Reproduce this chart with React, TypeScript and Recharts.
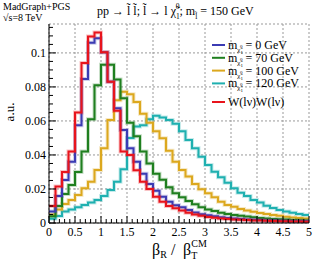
import { LineChart, Line, XAxis, YAxis, CartesianGrid } from 'recharts';

// bin edges 0 .. 5, width 0.125 (40 bins)
const xEdges = Array.from({ length: 41 }, (_, i) => i * 0.125);

const m0 = [0.0067, 0.0159, 0.0253, 0.036, 0.0575, 0.0846, 0.106, 0.1086, 0.1004, 0.083, 0.0675, 0.0547, 0.044, 0.036, 0.029, 0.023, 0.019, 0.0155, 0.0125, 0.0105, 0.0092, 0.0076, 0.0062, 0.0052, 0.0045, 0.0039, 0.0034, 0.003, 0.0027, 0.0024, 0.0021, 0.0019, 0.0017, 0.0015, 0.0014, 0.0013, 0.0012, 0.0011, 0.001, 0.001];
const m70 = [0.004, 0.01, 0.017, 0.0224, 0.03, 0.042, 0.061, 0.081, 0.093, 0.093, 0.0843, 0.0734, 0.059, 0.051, 0.042, 0.035, 0.029, 0.0255, 0.021, 0.0175, 0.0152, 0.013, 0.011, 0.0092, 0.008, 0.007, 0.006, 0.0053, 0.0047, 0.0042, 0.0038, 0.0034, 0.003, 0.0027, 0.0024, 0.0022, 0.002, 0.0018, 0.0016, 0.0015];
const m100 = [0.005, 0.008, 0.0112, 0.0135, 0.0165, 0.0204, 0.0243, 0.0312, 0.0439, 0.0605, 0.0722, 0.0771, 0.0757, 0.0712, 0.0643, 0.059, 0.054, 0.0498, 0.0425, 0.036, 0.0312, 0.0273, 0.0229, 0.0198, 0.0175, 0.0151, 0.0125, 0.0106, 0.0096, 0.0082, 0.0074, 0.0066, 0.0059, 0.0053, 0.0047, 0.0042, 0.0037, 0.0033, 0.003, 0.0027];
const m120 = [0.0025, 0.0041, 0.0067, 0.008, 0.0092, 0.0106, 0.012, 0.0135, 0.0159, 0.0194, 0.0243, 0.0316, 0.05, 0.0567, 0.0575, 0.061, 0.063, 0.062, 0.0606, 0.0584, 0.054, 0.0488, 0.0439, 0.039, 0.0341, 0.0302, 0.0269, 0.0237, 0.0204, 0.0178, 0.0159, 0.0135, 0.012, 0.0102, 0.0088, 0.0077, 0.0068, 0.0061, 0.0053, 0.0047];
const ww = [0.01, 0.0214, 0.03, 0.042, 0.065, 0.094, 0.1096, 0.112, 0.1004, 0.083, 0.066, 0.042, 0.04, 0.031, 0.0243, 0.02, 0.0155, 0.0125, 0.01, 0.0086, 0.0074, 0.006, 0.005, 0.0042, 0.0036, 0.0031, 0.0027, 0.0024, 0.0021, 0.0019, 0.0017, 0.0015, 0.0014, 0.0013, 0.0012, 0.0011, 0.001, 0.0009, 0.0009, 0.0008];

const xTicks = Array.from({ length: 51 }, (_, i) => i / 10);
const yTicks = Array.from({ length: 24 }, (_, i) => (i * 5) / 1000);
const xMajor = [0, 0.5, 1, 1.5, 2, 2.5, 3, 3.5, 4, 4.5, 5];
const yMajor = [0, 0.02, 0.04, 0.06, 0.08, 0.1];

const series = [
  { key: 'm0', color: '#3b3bb3', label: '= 0 GeV', values: m0 },
  { key: 'm70', color: '#1f7f1f', label: '= 70 GeV', values: m70 },
  { key: 'm100', color: '#dca81e', label: '= 100 GeV', values: m100 },
  { key: 'm120', color: '#1fb0b0', label: '= 120 GeV', values: m120 },
  { key: 'ww', color: '#e8141c', label: 'W(lν)W(lν)', values: ww },
];
// drawing order: red on top
const drawOrder = ['m120', 'm100', 'm70', 'm0', 'ww'];

const data = xEdges.map((x, i) => {
  const j = Math.min(i, 39);
  return { x, m0: m0[j], m70: m70[j], m100: m100[j], m120: m120[j], ww: ww[j] };
});

const FONT = '"Liberation Serif", "DejaVu Serif", serif';

const isMajorX = (v: number) => Math.abs(v * 2 - Math.round(v * 2)) < 1e-6;
const isMajorY = (v: number) => Math.round(v * 1000) % 20 === 0;

const XTick = (side: 'bottom' | 'top') => (props: any) => {
  const { x, y, payload } = props;
  const v = payload.value;
  const major = isMajorX(v);
  const len = major ? 7 : 4;
  const dir = side === 'bottom' ? -1 : 1;
  return (
    <g>
      <line x1={x} x2={x} y1={y} y2={y + dir * len} stroke="#000" strokeWidth={1} />
      {side === 'bottom' && major && (
        <text x={x} y={y + 13} textAnchor="middle" fontSize={12} fontFamily={FONT} fill="#000">
          {String(v)}
        </text>
      )}
    </g>
  );
};

const YTick = (side: 'left' | 'right') => (props: any) => {
  const { x, y, payload } = props;
  const v = payload.value;
  const major = isMajorY(v);
  const len = major ? 7 : 4;
  const dir = side === 'left' ? 1 : -1;
  return (
    <g>
      <line x1={x} x2={x + dir * len} y1={y} y2={y} stroke="#000" strokeWidth={1} />
      {side === 'left' && major && (
        <text x={x - 3} y={y + 4} textAnchor="end" fontSize={12} fontFamily={FONT} fill="#000">
          {String(Math.round(v * 1000) / 1000)}
        </text>
      )}
    </g>
  );
};

const Overlay = () => (
  <svg width={332} height={263} style={{ position: 'absolute', left: 0, top: 0, pointerEvents: 'none' }} fontFamily={FONT}>
    <text x={3} y={10} fontSize={10}>MadGraph+PGS</text>
    <text x={3} y={21} fontSize={10}>√s=8 TeV</text>
    <text x={97} y={15} fontSize={12}>
      pp → l̃ l̃; l̃ → l χ̃
      <tspan fontSize={7.5} dy={4}>1</tspan>
      <tspan fontSize={7.5} dx={-4} dy={-10}>0</tspan>
      <tspan dy={6}>;  m</tspan>
      <tspan fontSize={7.5} dy={4}>l̃</tspan>
      <tspan dy={-4}> = 150 GeV</tspan>
    </text>
    <text x={14} y={112} fontSize={13} textAnchor="middle" transform="rotate(-90 14 112)">a.u.</text>
    <text x={152} y={255} fontSize={16}>
      β<tspan fontSize={10} dy={3}>R</tspan>
      <tspan dy={-3} x={171}>/</tspan>
      <tspan x={183}>β</tspan>
      <tspan fontSize={10} dy={4}>T</tspan>
      <tspan fontSize={10} dx={-6} dy={-12}>CM</tspan>
    </text>
    {series.map((s, i) => {
      const yy = i < 4 ? 45 + i * 12.8 : 102;
      return (
        <g key={s.key}>
          <line x1={212} x2={225} y1={yy} y2={yy} stroke={s.color} strokeWidth={2} />
          {i < 4 ? (
            <text x={228} y={yy + 4} fontSize={12}>
              m<tspan fontSize={7} dy={3}>χ̃</tspan>
              <tspan fontSize={5} dy={2}>1</tspan>
              <tspan fontSize={5} dx={-3} dy={-6}>0</tspan>
              <tspan fontSize={12} dy={1}> {s.label}</tspan>
            </text>
          ) : (
            <text x={228} y={yy + 4} fontSize={12}>{s.label}</text>
          )}
        </g>
      );
    })}
  </svg>
);

export default function App() {
  return (
    <div style={{ position: 'absolute', left: 0, top: 0, width: 332, height: 263, background: '#fff' }}>
      <LineChart width={332} height={263} data={data} margin={{ top: 24, right: 23, bottom: 0, left: 0 }}>
        <XAxis xAxisId="grid" dataKey="x" type="number" domain={[0, 5]} ticks={xMajor} hide allowDataOverflow />
        <YAxis yAxisId="grid" type="number" domain={[0, 0.117]} ticks={yMajor} hide allowDataOverflow />
        <CartesianGrid xAxisId="grid" yAxisId="grid" stroke="#999" strokeDasharray="2 2" />
        <XAxis
          dataKey="x"
          type="number"
          domain={[0, 5]}
          ticks={xTicks}
          interval={0}
          height={40}
          tickSize={0}
          tickMargin={0}
          tickLine={false}
          axisLine={{ stroke: '#000' }}
          tick={XTick('bottom')}
          allowDataOverflow
        />
        <XAxis
          xAxisId="top"
          orientation="top"
          dataKey="x"
          type="number"
          domain={[0, 5]}
          ticks={xTicks}
          interval={0}
          height={0}
          tickSize={0}
          tickMargin={0}
          tickLine={false}
          axisLine={{ stroke: '#000' }}
          tick={XTick('top')}
          allowDataOverflow
        />
        <YAxis
          type="number"
          domain={[0, 0.117]}
          ticks={yTicks}
          interval={0}
          width={49}
          tickSize={0}
          tickMargin={0}
          tickLine={false}
          axisLine={{ stroke: '#000' }}
          tick={YTick('left')}
          allowDataOverflow
        />
        <YAxis
          yAxisId="right"
          orientation="right"
          type="number"
          domain={[0, 0.117]}
          ticks={yTicks}
          interval={0}
          width={0}
          tickSize={0}
          tickMargin={0}
          tickLine={false}
          axisLine={{ stroke: '#000' }}
          tick={YTick('right')}
          allowDataOverflow
        />
        {drawOrder.map((k) => {
          const s = series.find((q) => q.key === k)!;
          return [
            <Line key={k + '-halo'} dataKey={k} type="stepAfter" stroke={s.color} strokeOpacity={0.25} strokeWidth={4} dot={false} activeDot={false} isAnimationActive={false} />,
            <Line key={k} dataKey={k} type="stepAfter" stroke={s.color} strokeWidth={2} dot={false} activeDot={false} isAnimationActive={false} />,
          ];
        })}
      </LineChart>
      <Overlay />
    </div>
  );
}
